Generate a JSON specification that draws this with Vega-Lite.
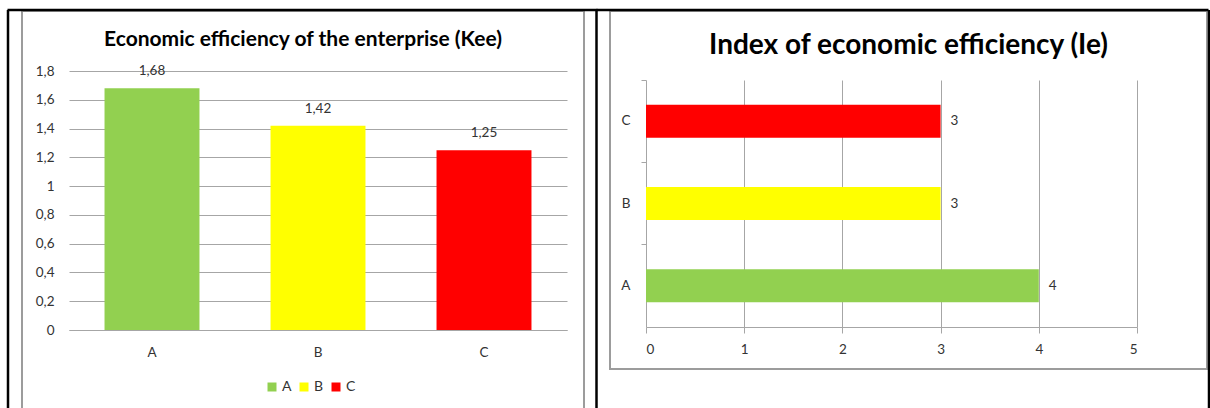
{
  "$schema": "https://vega.github.io/schema/vega-lite/v6.json",
  "background": "white",
  "padding": {"left": 6, "top": 8, "right": 0, "bottom": 0},
  "spacing": 26,
  "bounds": "flush",
  "config": {
    "font": "Lato",
    "view": {"stroke": "#9c9c9c", "strokeWidth": 2},
    "axis": {"labelFont": "Lato", "labelColor": "#333333", "gridColor": "#a6a6a6", "domainColor": "#a6a6a6", "tickColor": "#a6a6a6", "title": null, "labelFontSize": 13.5},
    "legend": {"labelFont": "Lato", "labelColor": "#333333", "padding": 0},
    "title": {"font": "Lato", "color": "black", "fontWeight": "bold", "anchor": "middle"}
  },
  "hconcat": [
    {
      "width": 562,
      "height": 400,
      "title": {"text": "Economic efficiency of the enterprise (Kee)", "fontSize": 21, "offset": -40},
      "data": {"values": [
        {"cat": "A", "kee": 1.68},
        {"cat": "B", "kee": 1.42},
        {"cat": "C", "kee": 1.25}
      ]},
      "resolve": {"scale": {"x": "independent", "y": "independent"}, "axis": {"x": "independent", "y": "independent"}},
      "layer": [
        {
          "encoding": {
            "x": {"field": "cat", "type": "nominal", "scale": {"range": [47, 545], "paddingInner": 0.428, "paddingOuter": 0.214},
              "axis": {"orient": "bottom", "offset": -81, "labelAngle": 0, "ticks": false, "labelPadding": 15, "grid": false}},
            "y": {"field": "kee", "type": "quantitative", "scale": {"domain": [0, 1.8], "range": [319, 60]},
              "axis": {"orient": "left", "offset": -47, "values": [0, 0.2, 0.4, 0.6, 0.8, 1, 1.2, 1.4, 1.6, 1.8], "domain": false, "ticks": false, "labelPadding": 15, "grid": true,
                "labelExpr": "replace(format(datum.value, '.1~f'), '.', ',')"}}
          },
          "layer": [
            {
              "mark": {"type": "bar"},
              "encoding": {
                "color": {"field": "cat", "type": "nominal",
                  "scale": {"domain": ["A", "B", "C"], "range": ["#92D050", "#FFFF00", "#FF0000"]},
                  "legend": {"orient": "none", "direction": "horizontal", "legendX": 243, "legendY": 369, "title": null,
                    "symbolType": "square", "symbolSize": 81, "symbolStrokeWidth": 0, "labelFontSize": 14, "labelOffset": 3, "columnPadding": 5}}
              }
            },
            {
              "transform": [{"calculate": "replace(format(datum.kee, '.2f'), '.', ',')", "as": "lbl"}],
              "mark": {"type": "text", "dy": -17, "fontSize": 13.5, "color": "#333333", "baseline": "middle"},
              "encoding": {"text": {"field": "lbl"}}
            }
          ]
        },
        {
          "mark": {"type": "point", "opacity": 0},
          "encoding": {
            "x": {"field": "kee", "type": "quantitative", "scale": {"domain": [0, 2], "range": [-15, 575]},
              "axis": {"orient": "top", "offset": 1.5, "domainColor": "black", "domainWidth": 2.5, "labels": false, "ticks": false, "grid": false}},
            "y": {"field": "kee", "type": "quantitative", "scale": {"domain": [0, 2], "range": [400, -1.5]},
              "axis": {"orient": "left", "offset": 14.5, "domainColor": "black", "domainWidth": 2.5, "labels": false, "ticks": false, "grid": false}}
          }
        }
      ]
    },
    {
      "width": 597,
      "height": 358,
      "title": {"text": "Index of economic efficiency (Ie)", "fontSize": 28, "offset": -50},
      "data": {"values": [
        {"cat": "A", "ie": 4},
        {"cat": "B", "ie": 3},
        {"cat": "C", "ie": 3}
      ]},
      "resolve": {"scale": {"x": "independent", "y": "independent"}, "axis": {"x": "independent", "y": "independent"}},
      "layer": [
        {
          "encoding": {
            "y": {"field": "cat", "type": "nominal", "sort": ["C", "B", "A"],
              "scale": {"range": [69, 316], "paddingInner": 0.6, "paddingOuter": 0.3},
              "axis": {"orient": "left", "offset": -36, "bandPosition": -0.75, "tickSize": 5, "labelPadding": 11, "grid": false, "domain": true}}
          },
          "resolve": {"axis": {"x": "independent"}},
          "layer": [
            {
              "mark": {"type": "bar"},
              "encoding": {
                "x": {"field": "ie", "type": "quantitative", "scale": {"domain": [0, 5], "range": [36, 527]},
                  "axis": {"orient": "bottom", "offset": -42, "values": [0, 1, 2, 3, 4, 5], "tickSize": 6, "labelPadding": 9, "grid": false, "domain": true}},
                "color": {"field": "cat", "type": "nominal",
                  "scale": {"domain": ["A", "B", "C"], "range": ["#92D050", "#FFFF00", "#FF0000"]},
                  "legend": {"orient": "none", "direction": "vertical", "legendX": 557, "legendY": 168, "title": null,
                    "symbolType": "square", "symbolSize": 81, "symbolStrokeWidth": 0, "labelFontSize": 14, "labelOffset": 2, "rowPadding": 15}}
              }
            },
            {
              "mark": {"type": "text", "align": "left", "dx": 10, "fontSize": 13.5, "color": "#333333", "baseline": "middle"},
              "encoding": {
                "x": {"field": "ie", "type": "quantitative", "scale": {"domain": [0, 5], "range": [36, 527]},
                  "axis": {"orient": "top", "values": [1, 2, 3, 4, 5], "grid": true, "labels": false, "ticks": false, "domain": false}},
                "text": {"field": "ie", "type": "quantitative"}
              }
            }
          ]
        },
        {
          "mark": {"type": "point", "opacity": 0},
          "encoding": {
            "x": {"field": "ie", "type": "quantitative", "scale": {"domain": [0, 5], "range": [-14, 598]},
              "axis": {"orient": "top", "offset": 1.5, "domainColor": "black", "domainWidth": 2.5, "labels": false, "ticks": false, "grid": false}},
            "y": {"field": "ie", "type": "quantitative", "scale": {"domain": [0, 5], "range": [400, -1.5]},
              "axis": {"orient": "left", "offset": 14, "domainColor": "black", "domainWidth": 2.5, "labels": false, "ticks": false, "grid": false}}
          }
        },
        {
          "mark": {"type": "point", "opacity": 0},
          "encoding": {
            "y": {"field": "ie", "type": "quantitative", "scale": {"domain": [0, 5], "range": [400, -1.5]},
              "axis": {"orient": "right", "offset": 1.5, "domainColor": "black", "domainWidth": 2.5, "labels": false, "ticks": false, "grid": false}}
          }
        }
      ]
    }
  ]
}
